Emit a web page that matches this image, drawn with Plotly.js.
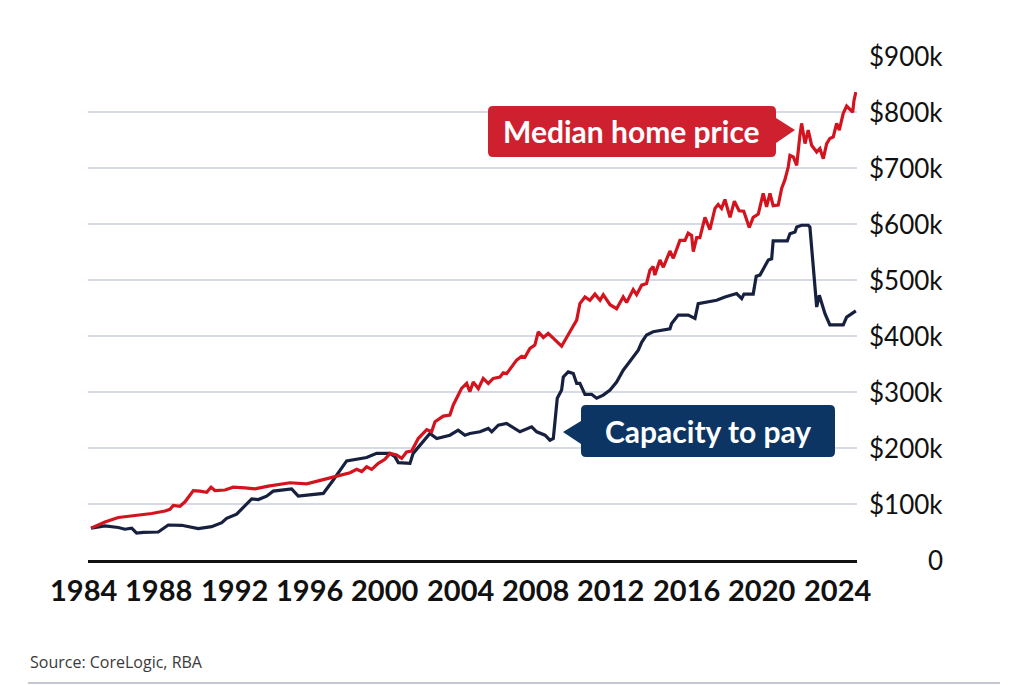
<!DOCTYPE html>
<html>
<head>
<meta charset="utf-8">
<script src="https://cdn.plot.ly/plotly-3.0.1.min.js"></script>
<style>
  html, body { margin: 0; padding: 0; background: #ffffff; }
  #chart { width: 1024px; height: 685px; }
</style>
</head>
<body>
<div id="chart"></div>
<script>
// ---- Data (values in $ thousands) ----
const priceYears = [1984.40,1985.14,1985.85,1986.56,1987.62,1988.33,1988.59,1988.77,1989.12,1989.39,1989.83,1990.18,1990.54,1990.77,1990.98,1991.51,1991.95,1992.57,1993.10,1993.81,1994.43,1994.96,1995.85,1996.73,1997.35,1998.15,1998.50,1998.77,1999.03,1999.30,1999.65,2000.00,2000.27,2000.62,2000.89,2001.15,2001.42,2001.77,2002.22,2002.48,2002.66,2003.10,2003.45,2003.63,2004.07,2004.34,2004.51,2004.69,2004.96,2005.22,2005.49,2005.75,2006.11,2006.28,2006.46,2006.73,2006.99,2007.26,2007.43,2007.70,2007.96,2008.14,2008.41,2008.67,2009.12,2009.38,2009.82,2010.18,2010.35,2010.62,2010.88,2011.15,2011.42,2011.59,2011.95,2012.30,2012.65,2012.83,2013.18,2013.36,2013.63,2013.89,2014.07,2014.24,2014.33,2014.60,2014.78,2015.13,2015.31,2015.66,2015.93,2016.10,2016.28,2016.37,2016.55,2016.72,2016.99,2017.25,2017.52,2017.69,2017.87,2018.05,2018.32,2018.55,2018.80,2019.05,2019.34,2019.55,2019.82,2020.08,2020.26,2020.44,2020.61,2020.88,2021.06,2021.23,2021.41,2021.50,2021.68,2021.86,2022.03,2022.12,2022.30,2022.47,2022.65,2022.92,2023.09,2023.27,2023.45,2023.62,2023.80,2023.98,2024.12,2024.33,2024.51,2024.68,2024.83,2024.90,2025.00];
const priceValues = [57,68,76,79,83,87.5,90.5,97.6,96,104,124,123,121,130,124,125,130,129,127,132,136,138,136,143,149,156,162,158,166.6,162,172.6,180,190.5,187.5,181.6,193,194.6,217,233,229,247,257,259,277,306.6,315.5,300.5,318,306,324.5,315.5,324.5,327,334.5,333,345,357,364,362,378,384,407.7,397.6,404.8,390,382,407.7,428.6,458,470,464,475,464,474,456,449,470,460,483,474,491,494,518,524,509,536,523,552,539,571,571,584,580,551,576,576,612,590,628,635,628,644,612,641,624,623,594,612,618,655,631,655,633,634,664,679,702,723,720,705,759,780,744,768,741,729,735,717,744,753,756,780,768,798,811,805,800,821,836];

const capYears = [1984.40,1985.14,1985.85,1986.20,1986.56,1986.82,1987.17,1987.97,1988.50,1989.21,1990.09,1990.80,1991.34,1991.60,1992.13,1992.57,1992.93,1993.28,1993.72,1994.07,1994.70,1995.05,1995.40,1996.02,1996.73,1997.26,1997.70,1997.97,1999.03,1999.56,2000.27,2000.53,2000.71,2001.33,2001.50,2001.86,2002.39,2002.75,2003.45,2003.89,2004.25,2004.51,2005.05,2005.49,2005.67,2006.02,2006.46,2007.17,2007.79,2008.06,2008.50,2008.76,2008.94,2009.15,2009.38,2009.47,2009.73,2010.00,2010.18,2010.35,2010.62,2010.97,2011.24,2011.59,2011.95,2012.30,2012.65,2012.92,2013.18,2013.45,2013.63,2013.89,2014.24,2014.78,2015.13,2015.22,2015.57,2016.10,2016.46,2016.63,2017.25,2017.61,2018.05,2018.67,2018.94,2019.06,2019.55,2019.71,2019.91,2020.08,2020.35,2020.53,2020.61,2021.36,2021.50,2021.77,2021.86,2022.12,2022.47,2022.56,2022.74,2022.92,2023.06,2023.18,2023.36,2023.62,2024.33,2024.51,2024.77,2025.00];
const capValues = [57,61,58,55,57,48,49.5,50,62.5,62,56,59.5,66.7,74.4,82,97.6,109,108,114,123,126,127,114,116,119,143,164,177,183,190.5,190.5,184.5,174,172.6,190.5,205,226,217,223,232,223,226,229,235,229,241,244,229,238,229,223,214,217,289,303.6,327,336,333,315.5,315.5,296,296,289,294.6,303.6,318,339,351,364,375,389,402,407.7,411,413,422.6,437.5,437.5,431.6,458,462,464,470,476,467,475,475,507,509,520,536,538,570,570,583,586,595,598,598,595,524,452,473,461,440,420,420,434,440,445];

const xTickVals = [1984,1988,1992,1996,2000,2004,2008,2012,2016,2020,2024];
const xTickText = ["1984","1988","1992","1996","2000","2004","2008","2012","2016","2020","2024"];
const yTickVals = [0,100,200,300,400,500,600,700,800,900];
const yTickText = ["0","$100k","$200k","$300k","$400k","$500k","$600k","$700k","$800k","$900k"];

const seriesNames = ["Capacity to pay","Median home price"];
const sourceText = "Source: CoreLogic, RBA";

// ---- Styles ----
const RED = "#d3141f";
const RED_BOX = "#cf2030";
const NAVY = "#17213f";
const NAVY_BOX = "#0c3563";
const FONT = "Lato, 'Open Sans', sans-serif";

// axis ranges
const X_RANGE = [1984.24, 2025.06];
const Y_RANGE = [0, 900.4];

// plot-area geometry (pixels)
const L = 88, R = 857, T = 56, B = 560;
const W = 1024, H = 685;
const X = px => ((px - L) / (R - L)).toFixed(5);
const Y = py => ((B - py) / (B - T)).toFixed(5);
// x-axis value -> paper fraction via the axis range (labels may sit just outside the range)
const xv2paper = v => (v - X_RANGE[0]) / (X_RANGE[1] - X_RANGE[0]);

function calloutPath(x0, y0, x1, y1, r, side, a0, a1, tipX, tipY) {
  let d = `M${X(x0 + r)},${Y(y0)} L${X(x1 - r)},${Y(y0)} Q${X(x1)},${Y(y0)} ${X(x1)},${Y(y0 + r)}`;
  if (side === "right") d += ` L${X(x1)},${Y(a0)} L${X(tipX)},${Y(tipY)} L${X(x1)},${Y(a1)}`;
  d += ` L${X(x1)},${Y(y1 - r)} Q${X(x1)},${Y(y1)} ${X(x1 - r)},${Y(y1)} L${X(x0 + r)},${Y(y1)} Q${X(x0)},${Y(y1)} ${X(x0)},${Y(y1 - r)}`;
  if (side === "left") d += ` L${X(x0)},${Y(a1)} L${X(tipX)},${Y(tipY)} L${X(x0)},${Y(a0)}`;
  d += ` L${X(x0)},${Y(y0 + r)} Q${X(x0)},${Y(y0)} ${X(x0 + r)},${Y(y0)} Z`;
  return d;
}

const traces = [
  { x: capYears, y: capValues, name: seriesNames[0], type: "scatter", mode: "lines",
    line: { color: NAVY, width: 3.2 }, hoverinfo: "skip" },
  { x: priceYears, y: priceValues, name: seriesNames[1], type: "scatter", mode: "lines",
    line: { color: RED, width: 3.2 }, hoverinfo: "skip" }
];

const annotations = [];
xTickVals.forEach((v, i) => annotations.push({
  x: xv2paper(v), xref: "paper", y: Y(589), yref: "paper", xanchor: "center", yanchor: "middle",
  text: xTickText[i], showarrow: false,
  font: { family: FONT, size: 29, color: "#111111", weight: 700 }
}));
yTickVals.forEach((v, i) => annotations.push({
  x: X(945), xref: "paper", y: v, yref: "y", xanchor: "right", yanchor: "middle",
  text: yTickText[i], showarrow: false,
  font: { family: FONT, size: 26, color: "#111111" }
}));
annotations.push({
  x: X(632), xref: "paper", y: Y(131), yref: "paper", xanchor: "center", yanchor: "middle",
  text: seriesNames[1], showarrow: false,
  font: { family: FONT, size: 30, color: "#ffffff", weight: 700 }
});
annotations.push({
  x: X(708), xref: "paper", y: Y(431), yref: "paper", xanchor: "center", yanchor: "middle",
  text: seriesNames[0], showarrow: false,
  font: { family: FONT, size: 30, color: "#ffffff", weight: 700 }
});
annotations.push({
  x: X(28), xref: "paper", y: Y(662), yref: "paper", xanchor: "left", yanchor: "middle",
  text: sourceText, showarrow: false,
  font: { family: "'Open Sans', sans-serif", size: 16, color: "#3a3a3a" }
});

const shapes = [
  { type: "path", xref: "paper", yref: "paper", layer: "above",
    path: calloutPath(488, 106, 776, 157, 5, "right", 118, 143, 795, 130),
    fillcolor: RED_BOX, line: { width: 0 } },
  { type: "path", xref: "paper", yref: "paper", layer: "above",
    path: calloutPath(581, 405, 835, 457, 5, "left", 421, 444, 563, 432),
    fillcolor: NAVY_BOX, line: { width: 0 } },
  { type: "line", xref: "paper", yref: "paper", x0: X(28), x1: X(1000), y0: Y(683), y1: Y(683),
    line: { color: "#b3b6c2", width: 1.5 } }
];

const layout = {
  width: W, height: H,
  margin: { l: L, r: W - R, t: T, b: H - B, pad: 0 },
  paper_bgcolor: "#ffffff", plot_bgcolor: "#ffffff",
  showlegend: false,
  font: { family: FONT },
  xaxis: {
    range: X_RANGE, tickvals: xTickVals, showticklabels: false,
    showgrid: false, zeroline: false, showline: true, linecolor: "#111111", linewidth: 2.5,
    ticks: "", fixedrange: true
  },
  yaxis: {
    range: Y_RANGE, tickvals: yTickVals, showticklabels: false,
    showgrid: true, gridcolor: "#d5dae6", gridwidth: 1.5, zeroline: false, showline: false,
    ticks: "", fixedrange: true
  },
  annotations: annotations,
  shapes: shapes
};

Plotly.newPlot("chart", traces, layout, { staticPlot: true, displayModeBar: false });
</script>
</body>
</html>
